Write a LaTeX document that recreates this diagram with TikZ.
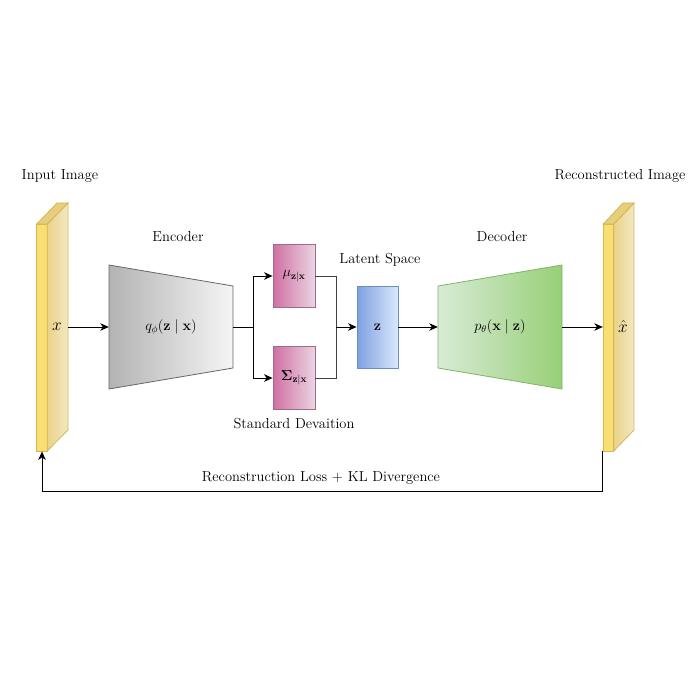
\documentclass[tikz,border=0pt]{standalone}
\usepackage{amsmath}
\usetikzlibrary{arrows.meta}
\definecolor{yfront}{HTML}{F9DE73}
\definecolor{ysideL}{HTML}{EAD288}
\definecolor{ysideR}{HTML}{F2E8C2}
\definecolor{ytop}{HTML}{E5CF7C}
\definecolor{ystroke}{HTML}{D6B656}
\definecolor{grayL}{HTML}{B3B3B3}
\definecolor{grayR}{HTML}{F5F5F5}
\definecolor{grayS}{HTML}{666666}
\definecolor{pinkL}{HTML}{D06FA2}
\definecolor{pinkR}{HTML}{EAD5E2}
\definecolor{pinkS}{HTML}{9E6A8B}
\definecolor{blueL}{HTML}{7EA0E0}
\definecolor{blueR}{HTML}{DAE8FC}
\definecolor{blueS}{HTML}{6C8EBF}
\definecolor{greenL}{HTML}{D8EBD6}
\definecolor{greenR}{HTML}{97D077}
\definecolor{greenS}{HTML}{82B366}
\tikzset{
  arr/.style={-{Stealth[length=8.5pt,width=7.5pt,inset=2.5pt]}, line width=1pt},
  conn/.style={line width=1pt},
  slabfront/.style={draw=ystroke, fill=yfront, line width=0.8pt, minimum width=10.5pt, minimum height=227pt, inner sep=0pt},
  pinkbox/.style={draw=pinkS, left color=pinkL, right color=pinkR, line width=0.8pt, minimum width=42pt, minimum height=63pt, inner sep=0pt},
  bluebox/.style={draw=blueS, left color=blueL, right color=blueR, line width=0.8pt, minimum width=41pt, minimum height=82pt, inner sep=0pt},
  anchorbox/.style={minimum width=124pt, minimum height=82pt, inner sep=0pt},
  lbl/.style={inner sep=0pt}
}
\begin{document}
\begin{tikzpicture}[x=1pt,y=-1pt,font=\fontsize{14.5}{17}\selectfont]
\useasboundingbox (0,0) rectangle (700,700);

% input slab
\node[slabfront] (inF) at (42,337.5) {};
\shadedraw[left color=ysideL, right color=ysideR, draw=ystroke, line width=0.8pt] (47.25,224)--(68,203)--(68,430)--(47.25,451)--cycle;
\filldraw[fill=ytop, draw=ystroke, line width=0.8pt] (36.75,224)--(57,203)--(68,203)--(47.25,224)--cycle;
\node[lbl] (xlab) at (57,327) {\fontsize{16}{18}\selectfont$x$};
\coordinate (inOut) at (68,327);

% output slab
\node[slabfront] (outF) at (608.5,337.5) {};
\shadedraw[left color=ysideL, right color=ysideR, draw=ystroke, line width=0.8pt] (613.75,224)--(634,203)--(634,430)--(613.75,451)--cycle;
\filldraw[fill=ytop, draw=ystroke, line width=0.8pt] (603.25,224)--(623,203)--(634,203)--(613.75,224)--cycle;
\node[lbl] (xhat) at (623,326) {\fontsize{16}{18}\selectfont$\hat{x}$};

% encoder
\shadedraw[left color=grayL, right color=grayR, draw=grayS, line width=0.8pt] (109,265)--(233,286)--(233,368)--(109,389)--cycle;
\node[anchorbox] (enc) at (171,327) {$q_{\phi}(\mathbf{z}\mid\mathbf{x})$};

% mu / sigma
\node[pinkbox] (mu) at (294,276) {$\mu_{\mathbf{z}|\mathbf{x}}$};
\node[pinkbox] (sigma) at (294,378) {$\boldsymbol{\Sigma}_{\mathbf{z}|\mathbf{x}}$};

% z
\node[bluebox] (z) at (377.5,327) {$\mathbf{z}$};

% decoder
\shadedraw[left color=greenL, right color=greenR, draw=greenS, line width=0.8pt] (438,286)--(562,265)--(562,389)--(438,368)--cycle;
\node[anchorbox] (dec) at (500,327) {$p_{\theta}(\mathbf{x}\mid\mathbf{z})$};

% titles
\node[lbl] (tin) at (60,176) {Input Image};
\node[lbl] (tout) at (620,176) {Reconstructed Image};
\node[lbl] (tenc) at (178,237) {Encoder};
\node[lbl] (tlat) at (380,260) {Latent Space};
\node[lbl] (tstd) at (294,424) {Standard Devaition};
\node[lbl] (tdec) at (502,237) {Decoder};

% connectors
\coordinate (split) at (253,327);
\coordinate (merge) at (336,327);
\draw[arr] (inOut) -- (enc.west);
\draw[conn] (enc.east) -- (split);
\draw[arr] (split) |- (mu.west);
\draw[arr] (split) |- (sigma.west);
\draw[conn, draw=black!75] (mu.east) -| (merge);
\draw[conn, draw=black!75] (sigma.east) -| (merge);
\draw[arr] (merge) -- (z.west);
\draw[arr] (z.east) -- (dec.west);
\draw[arr] (dec.east) -- (dec.east -| outF.west);
\draw[arr] (outF.south west) -- ++(0,40) coordinate (fb) -| (inF.south);
\node[lbl] (loss) at (321,478) {Reconstruction Loss + KL Divergence};
\end{tikzpicture}
\end{document}
